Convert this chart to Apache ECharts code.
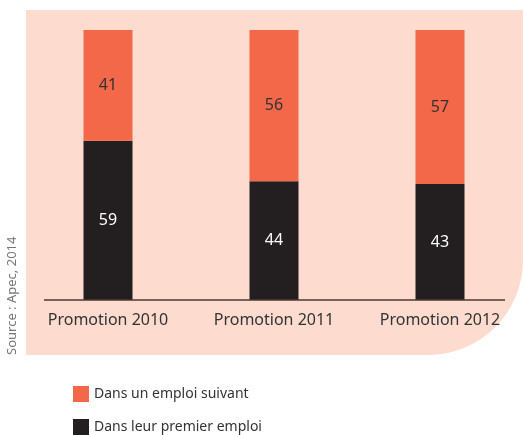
<!DOCTYPE html>
<html>
<head>
<meta charset="utf-8">
<script src="https://cdn.jsdelivr.net/npm/echarts@6/dist/echarts.min.js"></script>
<style>
  html, body { margin: 0; padding: 0; background: #fff; }
  #chart { width: 523px; height: 435px; }
</style>
</head>
<body>
<div id="chart"></div>
<script>
// données
const promotions = ['Promotion 2010', 'Promotion 2011', 'Promotion 2012']
const premierEmploi = [59, 44, 43]
const emploiSuivant = [41, 56, 57]
const seriesNames = ['Dans leur premier emploi', 'Dans un emploi suivant']

const chart = echarts.init(document.getElementById('chart'))
const font = 'Noto Sans'

// une légende par ligne
const legendItem = (name, top) => ({
  left: 73, top: top, padding: 0,
  itemWidth: 16, itemHeight: 16,
  icon: 'rect',
  data: [name],
  textStyle: { fontSize: 14, color: '#333', fontFamily: font }
})

chart.setOption({
  animation: false,
  textStyle: { fontFamily: font },
  graphic: [
    // fond rose
    {
      type: 'rect', z: -10,
      shape: { x: 26, y: 10, width: 497, height: 345, r: [0, 0, 95, 0] },
      style: { fill: '#fddbcf' }
    },
    // ligne de base
    {
      type: 'line', z: 10,
      shape: { x1: 44, y1: 300, x2: 505, y2: 300 },
      style: { stroke: '#4a3a36', lineWidth: 1.5 }
    },
    {
      type: 'text', rotation: Math.PI / 2, x: 6, y: 355,
      style: { text: 'Source : Apec, 2014', fill: '#777', font: '13px "Noto Sans"' }
    }
  ],
  legend: [
    legendItem(seriesNames[1], 386),
    legendItem(seriesNames[0], 419)
  ],
  grid: { left: 25, right: 0, top: 30, bottom: 135 },
  xAxis: {
    type: 'category',
    data: promotions,
    axisLine: { show: false },
    axisTick: { show: false },
    axisLabel: { fontSize: 16, color: '#333', margin: 12, fontFamily: font }
  },
  yAxis: { type: 'value', min: 0, max: 100, show: false },
  series: [
    {
      name: seriesNames[0], type: 'bar', stack: 'total', barWidth: 49,
      data: premierEmploi,
      itemStyle: { color: '#231f20' },
      label: { show: true, color: '#fff', fontSize: 16, fontFamily: font }
    },
    {
      name: seriesNames[1], type: 'bar', stack: 'total', barWidth: 49,
      data: emploiSuivant,
      itemStyle: { color: '#f26849' },
      label: { show: true, color: '#333', fontSize: 16, fontFamily: font }
    }
  ]
})
</script>
</body>
</html>
